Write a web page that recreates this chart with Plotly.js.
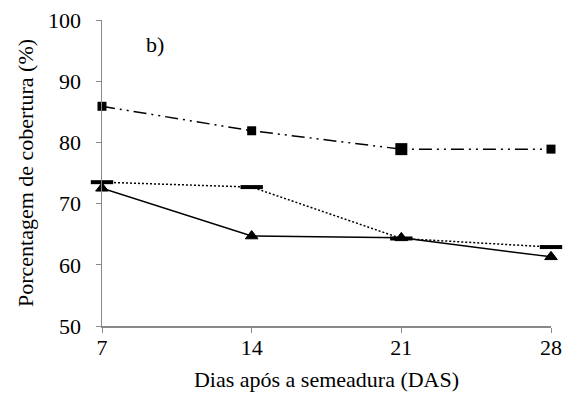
<!DOCTYPE html>
<html>
<head>
<meta charset="utf-8">
<script src="https://cdn.plot.ly/plotly-3.0.1.min.js"></script>
<style>html,body{margin:0;padding:0;background:#fff;}#chart{width:568px;height:397px;}</style>
</head>
<body>
<div id="chart"></div>
<script>
var days = [7, 14, 21, 28];
var serieQuadrado = [85.9, 81.9, 78.9, 78.9];
var serieTraco = [73.5, 72.7, 64.3, 62.9];
var serieTriangulo = [72.5, 64.7, 64.4, 61.3];
var yTicks = [50, 60, 70, 80, 90, 100];
var panelLabel = "b)";

var font = "'Liberation Serif', 'Times New Roman', serif";

var traces = [
  {
    x: days, y: serieQuadrado, mode: "lines+markers", type: "scatter",
    line: {color: "#000", width: 1.5, dash: "13px,5px,2px,5px,2px,5px"},
    marker: {symbol: "square", color: "#000", opacity: 1, size: [9, 9, 12, 9], line: {color: "#000", width: 0}},
    showlegend: false, cliponaxis: false
  },
  {
    x: days, y: serieTraco, mode: "lines+markers", type: "scatter",
    line: {color: "#000", width: 1.5, dash: "2px,2px"},
    marker: {symbol: "line-ew", color: "#000", size: 16, line: {color: "#000", width: 4}},
    showlegend: false, cliponaxis: false
  },
  {
    x: days, y: serieTriangulo, mode: "lines+markers", type: "scatter",
    line: {color: "#000", width: 1.5},
    marker: {symbol: "triangle-up", color: "#000", opacity: 1, size: 11, line: {color: "#000", width: 1}},
    showlegend: false, cliponaxis: false
  }
];

var layout = {
  width: 568, height: 397,
  margin: {l: 102, r: 17, t: 20, b: 71},
  paper_bgcolor: "#fff", plot_bgcolor: "#fff",
  font: {family: font, color: "#000", size: 22},
  xaxis: {
    range: [7, 28], tickvals: days, ticktext: days.map(String),
    showgrid: false, zeroline: false, showline: true, linecolor: "#888", linewidth: 1.5,
    ticks: "outside", ticklen: 5, tickcolor: "#888", tickwidth: 1,
    ticklabelstandoff: -4,
    tickfont: {family: font, size: 22, color: "#000"},
    title: {text: "Dias após a semeadura (DAS)", font: {family: font, size: 22, color: "#000"}, standoff: 12}
  },
  yaxis: {
    range: [50, 100], tickvals: yTicks,
    showgrid: false, zeroline: false, showline: true, linecolor: "#888", linewidth: 1.5,
    ticks: "outside", ticklen: 5, tickcolor: "#888", tickwidth: 1,
    ticklabelstandoff: 10,
    tickfont: {family: font, size: 22, color: "#000"},
    title: {text: "Porcentagem de cobertura (%)", font: {family: font, size: 22, color: "#000"}, standoff: 8}
  },
  annotations: [{
    text: panelLabel, xref: "paper", yref: "paper", x: 0.094, y: 0.92,
    xanchor: "left", yanchor: "middle", showarrow: false,
    font: {family: font, size: 22, color: "#000"}
  }]
};

Plotly.newPlot("chart", traces, layout, {displayModeBar: false, staticPlot: true});
</script>
</body>
</html>
